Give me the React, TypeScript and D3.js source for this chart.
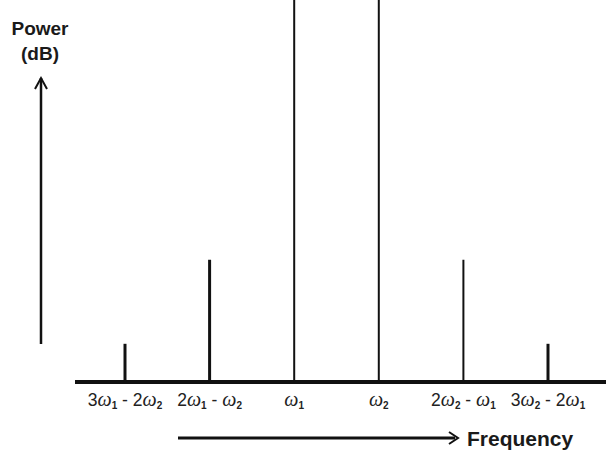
import React from "react";
import * as d3 from "d3";

const categories = ["3ω₁ - 2ω₂", "2ω₁ - ω₂", "ω₁", "ω₂", "2ω₂ - ω₁", "3ω₂ - 2ω₁"];
const power = [10, 32, 100, 100, 32, 10];
const yLabel = ["Power", "(dB)"];
const xLabel = "Frequency";

const W = 606, H = 452;
const baseY = 382;

function renderLabel(s: string) {
  const parts: React.ReactNode[] = [];
  let key = 0;
  let pending = 0;
  for (const ch of s) {
    if (ch === "ω") {
      parts.push(
        <tspan key={key++} dy={pending || undefined} fontStyle="italic" fontFamily="'Liberation Serif', serif" fontSize={20}>ω</tspan>
      );
      pending = 0;
    } else if (ch === "₁" || ch === "₂") {
      parts.push(
        <tspan key={key++} dy={3 + pending} fontSize={10} fontWeight="bold">{ch === "₁" ? "1" : "2"}</tspan>
      );
      pending = -3;
    } else {
      parts.push(<tspan key={key++} dy={pending || undefined}>{ch === " " ? "\u00A0" : ch}</tspan>);
      pending = 0;
    }
  }
  return parts;
}

export default function App() {
  const x = d3.scalePoint<string>().domain(categories).range([125, 548]);
  const y = d3.scaleLinear().domain([0, 100]).range([baseY, 0]);
  const widths = [3, 3, 2, 2, 2, 3];
  return (
    <svg width={W} height={H} style={{ position: "absolute", left: 0, top: 0 }}
      fontFamily="'Liberation Sans', Arial, sans-serif">
      <rect width={W} height={H} fill="#fff" />
      {/* y label */}
      <text x={40} y={35} textAnchor="middle" fontWeight="bold" fontSize={19} fill="#1a1a1a">{yLabel[0]}</text>
      <text x={40} y={60} textAnchor="middle" fontWeight="bold" fontSize={19} fill="#1a1a1a">{yLabel[1]}</text>
      {/* vertical arrow */}
      <line x1={41} y1={344} x2={41} y2={78} stroke="#111" strokeWidth={2.5} />
      <path d="M35,89 L41,78 L47,89" fill="none" stroke="#111" strokeWidth={2} />
      {/* baseline */}
      <line x1={75} x2={606} y1={baseY} y2={baseY} stroke="#111" strokeWidth={4} />
      {/* stems */}
      {categories.map((c, i) => (
        <line key={c} x1={x(c)} x2={x(c)} y1={baseY} y2={y(power[i])} stroke="#111" strokeWidth={widths[i]} />
      ))}
      {/* tick labels */}
      {categories.map((c) => (
        <text key={c} x={x(c)} y={406} textAnchor="middle" fontSize={17.5} fill="#222">{renderLabel(c)}</text>
      ))}
      {/* frequency arrow */}
      <line x1={178} x2={455} y1={438} y2={438} stroke="#111" strokeWidth={3} />
      <path d="M449,432 L458,438 L449,444" fill="none" stroke="#111" strokeWidth={2} />
      <text x={467} y={446} fontWeight="bold" fontSize={21} fill="#1a1a1a">{xLabel}</text>
    </svg>
  );
}
